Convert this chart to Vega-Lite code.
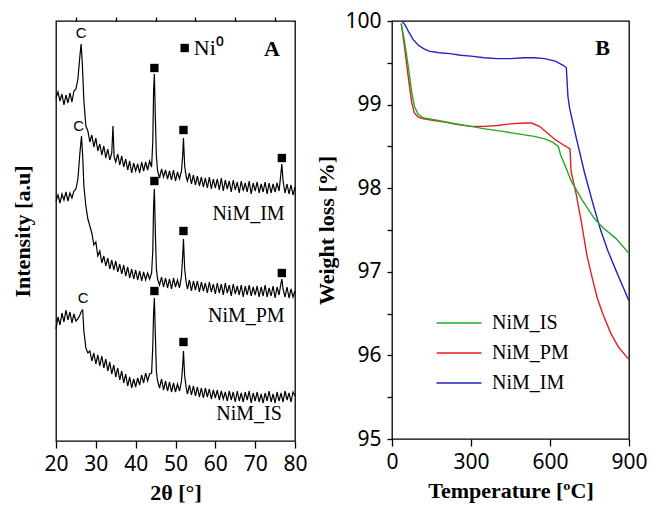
{
  "$schema": "https://vega.github.io/schema/vega-lite/v6.json",
  "background": "white",
  "padding": {"left": 10, "top": 9, "right": 4, "bottom": 0},
  "spacing": 7,
  "config": {
    "view": {"stroke": "black", "strokeWidth": 1.3},
    "axis": {
      "domain": false,
      "tickColor": "black",
      "tickWidth": 1.3,
      "labelFont": "Noto Sans",
      "labelFontSize": 21,
      "labelColor": "black",
      "labelOverlap": false,
      "titleFont": "Liberation Serif",
      "titleFontWeight": "bold",
      "titleFontSize": 22,
      "titleColor": "black",
      "grid": false
    }
  },
  "datasets": {
    "xrd": [
      {"s":"IM","t":20,"i":343},{"s":"IM","t":20.5,"i":349},{"s":"IM","t":21,"i":340},{"s":"IM","t":21.5,"i":347},{"s":"IM","t":22,"i":336},{"s":"IM","t":22.5,"i":346},{"s":"IM","t":23,"i":338},{"s":"IM","t":23.5,"i":348},{"s":"IM","t":24,"i":339},{"s":"IM","t":24.5,"i":350},{"s":"IM","t":25,"i":352},{"s":"IM","t":25.5,"i":362},{"s":"IM","t":26,"i":385},{"s":"IM","t":26.3,"i":397},{"s":"IM","t":26.6,"i":378},{"s":"IM","t":27,"i":340},{"s":"IM","t":27.5,"i":315},{"s":"IM","t":28,"i":310},{"s":"IM","t":28.5,"i":299},{"s":"IM","t":29,"i":306},{"s":"IM","t":29.5,"i":294},{"s":"IM","t":30,"i":303},{"s":"IM","t":30.5,"i":290},{"s":"IM","t":31,"i":297},{"s":"IM","t":31.5,"i":286},{"s":"IM","t":32,"i":295},{"s":"IM","t":32.5,"i":283},{"s":"IM","t":33,"i":292},{"s":"IM","t":33.5,"i":281},{"s":"IM","t":34,"i":288},{"s":"IM","t":34.3,"i":315},{"s":"IM","t":34.6,"i":284},{"s":"IM","t":35,"i":279},{"s":"IM","t":35.5,"i":287},{"s":"IM","t":36,"i":276},{"s":"IM","t":36.5,"i":285},{"s":"IM","t":37,"i":274},{"s":"IM","t":37.5,"i":282},{"s":"IM","t":38,"i":271},{"s":"IM","t":38.5,"i":280},{"s":"IM","t":39,"i":268},{"s":"IM","t":39.5,"i":278},{"s":"IM","t":40,"i":270},{"s":"IM","t":40.5,"i":277},{"s":"IM","t":41,"i":268},{"s":"IM","t":41.5,"i":279},{"s":"IM","t":42,"i":270},{"s":"IM","t":42.5,"i":279},{"s":"IM","t":43,"i":271},{"s":"IM","t":43.5,"i":280},{"s":"IM","t":44,"i":274},{"s":"IM","t":44.3,"i":300},{"s":"IM","t":44.5,"i":350},{"s":"IM","t":44.7,"i":367},{"s":"IM","t":44.9,"i":330},{"s":"IM","t":45.2,"i":285},{"s":"IM","t":45.5,"i":270},{"s":"IM","t":46,"i":263},{"s":"IM","t":46.5,"i":272},{"s":"IM","t":47,"i":264},{"s":"IM","t":47.5,"i":271},{"s":"IM","t":48,"i":262},{"s":"IM","t":48.5,"i":270},{"s":"IM","t":49,"i":261},{"s":"IM","t":49.5,"i":271},{"s":"IM","t":50,"i":260},{"s":"IM","t":50.5,"i":269},{"s":"IM","t":51,"i":262},{"s":"IM","t":51.5,"i":270},{"s":"IM","t":51.8,"i":285},{"s":"IM","t":52,"i":303},{"s":"IM","t":52.3,"i":275},{"s":"IM","t":52.7,"i":264},{"s":"IM","t":53,"i":260},{"s":"IM","t":53.5,"i":268},{"s":"IM","t":54,"i":257},{"s":"IM","t":54.5,"i":266},{"s":"IM","t":55,"i":256},{"s":"IM","t":55.5,"i":265},{"s":"IM","t":56,"i":255},{"s":"IM","t":56.5,"i":264},{"s":"IM","t":57,"i":254},{"s":"IM","t":57.5,"i":263},{"s":"IM","t":58,"i":253},{"s":"IM","t":58.5,"i":264},{"s":"IM","t":59,"i":252},{"s":"IM","t":59.5,"i":262},{"s":"IM","t":60,"i":253},{"s":"IM","t":60.5,"i":262},{"s":"IM","t":61,"i":251},{"s":"IM","t":61.5,"i":263},{"s":"IM","t":62,"i":250},{"s":"IM","t":62.5,"i":261},{"s":"IM","t":63,"i":252},{"s":"IM","t":63.5,"i":260},{"s":"IM","t":64,"i":249},{"s":"IM","t":64.5,"i":261},{"s":"IM","t":65,"i":251},{"s":"IM","t":65.5,"i":259},{"s":"IM","t":66,"i":248},{"s":"IM","t":66.5,"i":260},{"s":"IM","t":67,"i":250},{"s":"IM","t":67.5,"i":258},{"s":"IM","t":68,"i":249},{"s":"IM","t":68.5,"i":260},{"s":"IM","t":69,"i":247},{"s":"IM","t":69.5,"i":258},{"s":"IM","t":70,"i":250},{"s":"IM","t":70.5,"i":259},{"s":"IM","t":71,"i":248},{"s":"IM","t":71.5,"i":257},{"s":"IM","t":72,"i":249},{"s":"IM","t":72.5,"i":259},{"s":"IM","t":73,"i":247},{"s":"IM","t":73.5,"i":258},{"s":"IM","t":74,"i":248},{"s":"IM","t":74.5,"i":257},{"s":"IM","t":75,"i":249},{"s":"IM","t":75.5,"i":258},{"s":"IM","t":76,"i":250},{"s":"IM","t":76.4,"i":265},{"s":"IM","t":76.7,"i":277},{"s":"IM","t":77,"i":260},{"s":"IM","t":77.5,"i":248},{"s":"IM","t":78,"i":257},{"s":"IM","t":78.5,"i":247},{"s":"IM","t":79,"i":256},{"s":"IM","t":79.5,"i":246},{"s":"IM","t":80,"i":254},

      {"s":"PM","t":20,"i":240},{"s":"PM","t":20.5,"i":246},{"s":"PM","t":21,"i":238},{"s":"PM","t":21.5,"i":247},{"s":"PM","t":22,"i":241},{"s":"PM","t":22.5,"i":249},{"s":"PM","t":23,"i":240},{"s":"PM","t":23.5,"i":248},{"s":"PM","t":24,"i":243},{"s":"PM","t":24.5,"i":250},{"s":"PM","t":25,"i":252},{"s":"PM","t":25.5,"i":262},{"s":"PM","t":26,"i":288},{"s":"PM","t":26.4,"i":305},{"s":"PM","t":26.7,"i":285},{"s":"PM","t":27,"i":255},{"s":"PM","t":27.5,"i":235},{"s":"PM","t":28,"i":222},{"s":"PM","t":28.5,"i":215},{"s":"PM","t":29,"i":208},{"s":"PM","t":29.5,"i":196},{"s":"PM","t":30,"i":199},{"s":"PM","t":30.5,"i":185},{"s":"PM","t":31,"i":190},{"s":"PM","t":31.5,"i":178},{"s":"PM","t":32,"i":185},{"s":"PM","t":32.5,"i":175},{"s":"PM","t":33,"i":183},{"s":"PM","t":33.5,"i":172},{"s":"PM","t":34,"i":181},{"s":"PM","t":34.5,"i":171},{"s":"PM","t":35,"i":180},{"s":"PM","t":35.5,"i":169},{"s":"PM","t":36,"i":177},{"s":"PM","t":36.5,"i":167},{"s":"PM","t":37,"i":176},{"s":"PM","t":37.5,"i":165},{"s":"PM","t":38,"i":174},{"s":"PM","t":38.5,"i":163},{"s":"PM","t":39,"i":172},{"s":"PM","t":39.5,"i":162},{"s":"PM","t":40,"i":171},{"s":"PM","t":40.5,"i":161},{"s":"PM","t":41,"i":170},{"s":"PM","t":41.5,"i":160},{"s":"PM","t":42,"i":169},{"s":"PM","t":42.5,"i":161},{"s":"PM","t":43,"i":168},{"s":"PM","t":43.5,"i":162},{"s":"PM","t":44,"i":168},{"s":"PM","t":44.3,"i":190},{"s":"PM","t":44.5,"i":235},{"s":"PM","t":44.7,"i":252},{"s":"PM","t":44.9,"i":215},{"s":"PM","t":45.2,"i":172},{"s":"PM","t":45.5,"i":162},{"s":"PM","t":46,"i":156},{"s":"PM","t":46.5,"i":164},{"s":"PM","t":47,"i":154},{"s":"PM","t":47.5,"i":163},{"s":"PM","t":48,"i":153},{"s":"PM","t":48.5,"i":162},{"s":"PM","t":49,"i":152},{"s":"PM","t":49.5,"i":163},{"s":"PM","t":50,"i":154},{"s":"PM","t":50.5,"i":161},{"s":"PM","t":51,"i":153},{"s":"PM","t":51.5,"i":165},{"s":"PM","t":51.8,"i":185},{"s":"PM","t":52,"i":202},{"s":"PM","t":52.3,"i":172},{"s":"PM","t":52.7,"i":158},{"s":"PM","t":53,"i":152},{"s":"PM","t":53.5,"i":161},{"s":"PM","t":54,"i":150},{"s":"PM","t":54.5,"i":160},{"s":"PM","t":55,"i":151},{"s":"PM","t":55.5,"i":160},{"s":"PM","t":56,"i":149},{"s":"PM","t":56.5,"i":159},{"s":"PM","t":57,"i":150},{"s":"PM","t":57.5,"i":158},{"s":"PM","t":58,"i":148},{"s":"PM","t":58.5,"i":159},{"s":"PM","t":59,"i":149},{"s":"PM","t":59.5,"i":157},{"s":"PM","t":60,"i":147},{"s":"PM","t":60.5,"i":158},{"s":"PM","t":61,"i":148},{"s":"PM","t":61.5,"i":157},{"s":"PM","t":62,"i":146},{"s":"PM","t":62.5,"i":158},{"s":"PM","t":63,"i":148},{"s":"PM","t":63.5,"i":156},{"s":"PM","t":64,"i":145},{"s":"PM","t":64.5,"i":157},{"s":"PM","t":65,"i":147},{"s":"PM","t":65.5,"i":155},{"s":"PM","t":66,"i":146},{"s":"PM","t":66.5,"i":156},{"s":"PM","t":67,"i":144},{"s":"PM","t":67.5,"i":155},{"s":"PM","t":68,"i":146},{"s":"PM","t":68.5,"i":156},{"s":"PM","t":69,"i":145},{"s":"PM","t":69.5,"i":154},{"s":"PM","t":70,"i":146},{"s":"PM","t":70.5,"i":155},{"s":"PM","t":71,"i":144},{"s":"PM","t":71.5,"i":154},{"s":"PM","t":72,"i":145},{"s":"PM","t":72.5,"i":156},{"s":"PM","t":73,"i":144},{"s":"PM","t":73.5,"i":153},{"s":"PM","t":74,"i":145},{"s":"PM","t":74.5,"i":155},{"s":"PM","t":75,"i":143},{"s":"PM","t":75.5,"i":154},{"s":"PM","t":76,"i":146},{"s":"PM","t":76.4,"i":156},{"s":"PM","t":76.7,"i":162},{"s":"PM","t":77,"i":152},{"s":"PM","t":77.5,"i":144},{"s":"PM","t":78,"i":154},{"s":"PM","t":78.5,"i":143},{"s":"PM","t":79,"i":152},{"s":"PM","t":79.5,"i":144},{"s":"PM","t":80,"i":150},

      {"s":"IS","t":20,"i":112},{"s":"IS","t":20.5,"i":124},{"s":"IS","t":21,"i":116},{"s":"IS","t":21.5,"i":128},{"s":"IS","t":22,"i":119},{"s":"IS","t":22.5,"i":131},{"s":"IS","t":23,"i":121},{"s":"IS","t":23.5,"i":129},{"s":"IS","t":24,"i":118},{"s":"IS","t":24.5,"i":127},{"s":"IS","t":25,"i":120},{"s":"IS","t":25.5,"i":122},{"s":"IS","t":26,"i":126},{"s":"IS","t":26.4,"i":130},{"s":"IS","t":26.7,"i":131},{"s":"IS","t":27,"i":110},{"s":"IS","t":27.5,"i":93},{"s":"IS","t":28,"i":88},{"s":"IS","t":28.5,"i":90},{"s":"IS","t":29,"i":80},{"s":"IS","t":29.5,"i":88},{"s":"IS","t":30,"i":77},{"s":"IS","t":30.5,"i":86},{"s":"IS","t":31,"i":75},{"s":"IS","t":31.5,"i":85},{"s":"IS","t":32,"i":73},{"s":"IS","t":32.5,"i":82},{"s":"IS","t":33,"i":70},{"s":"IS","t":33.5,"i":79},{"s":"IS","t":34,"i":67},{"s":"IS","t":34.5,"i":76},{"s":"IS","t":35,"i":64},{"s":"IS","t":35.5,"i":73},{"s":"IS","t":36,"i":61},{"s":"IS","t":36.5,"i":70},{"s":"IS","t":37,"i":58},{"s":"IS","t":37.5,"i":67},{"s":"IS","t":38,"i":55},{"s":"IS","t":38.5,"i":64},{"s":"IS","t":39,"i":53},{"s":"IS","t":39.5,"i":62},{"s":"IS","t":40,"i":54},{"s":"IS","t":40.5,"i":63},{"s":"IS","t":41,"i":56},{"s":"IS","t":41.5,"i":66},{"s":"IS","t":42,"i":58},{"s":"IS","t":42.5,"i":68},{"s":"IS","t":43,"i":60},{"s":"IS","t":43.5,"i":67},{"s":"IS","t":44,"i":68},{"s":"IS","t":44.3,"i":95},{"s":"IS","t":44.5,"i":128},{"s":"IS","t":44.7,"i":143},{"s":"IS","t":44.9,"i":112},{"s":"IS","t":45.2,"i":70},{"s":"IS","t":45.5,"i":60},{"s":"IS","t":46,"i":53},{"s":"IS","t":46.5,"i":62},{"s":"IS","t":47,"i":51},{"s":"IS","t":47.5,"i":60},{"s":"IS","t":48,"i":50},{"s":"IS","t":48.5,"i":59},{"s":"IS","t":49,"i":49},{"s":"IS","t":49.5,"i":58},{"s":"IS","t":50,"i":49},{"s":"IS","t":50.5,"i":57},{"s":"IS","t":51,"i":50},{"s":"IS","t":51.5,"i":60},{"s":"IS","t":51.8,"i":75},{"s":"IS","t":52,"i":90},{"s":"IS","t":52.3,"i":65},{"s":"IS","t":52.7,"i":53},{"s":"IS","t":53,"i":47},{"s":"IS","t":53.5,"i":56},{"s":"IS","t":54,"i":46},{"s":"IS","t":54.5,"i":55},{"s":"IS","t":55,"i":45},{"s":"IS","t":55.5,"i":54},{"s":"IS","t":56,"i":44},{"s":"IS","t":56.5,"i":53},{"s":"IS","t":57,"i":43},{"s":"IS","t":57.5,"i":53},{"s":"IS","t":58,"i":44},{"s":"IS","t":58.5,"i":52},{"s":"IS","t":59,"i":42},{"s":"IS","t":59.5,"i":51},{"s":"IS","t":60,"i":43},{"s":"IS","t":60.5,"i":51},{"s":"IS","t":61,"i":41},{"s":"IS","t":61.5,"i":50},{"s":"IS","t":62,"i":42},{"s":"IS","t":62.5,"i":49},{"s":"IS","t":63,"i":40},{"s":"IS","t":63.5,"i":50},{"s":"IS","t":64,"i":41},{"s":"IS","t":64.5,"i":49},{"s":"IS","t":65,"i":39},{"s":"IS","t":65.5,"i":50},{"s":"IS","t":66,"i":40},{"s":"IS","t":66.5,"i":48},{"s":"IS","t":67,"i":39},{"s":"IS","t":67.5,"i":49},{"s":"IS","t":68,"i":41},{"s":"IS","t":68.5,"i":50},{"s":"IS","t":69,"i":38},{"s":"IS","t":69.5,"i":48},{"s":"IS","t":70,"i":40},{"s":"IS","t":70.5,"i":49},{"s":"IS","t":71,"i":39},{"s":"IS","t":71.5,"i":47},{"s":"IS","t":72,"i":38},{"s":"IS","t":72.5,"i":48},{"s":"IS","t":73,"i":40},{"s":"IS","t":73.5,"i":50},{"s":"IS","t":74,"i":39},{"s":"IS","t":74.5,"i":47},{"s":"IS","t":75,"i":38},{"s":"IS","t":75.5,"i":49},{"s":"IS","t":76,"i":40},{"s":"IS","t":76.5,"i":48},{"s":"IS","t":77,"i":39},{"s":"IS","t":77.5,"i":50},{"s":"IS","t":78,"i":41},{"s":"IS","t":78.5,"i":48},{"s":"IS","t":79,"i":39},{"s":"IS","t":79.5,"i":49},{"s":"IS","t":80,"i":45}
    ],
    "markers": [
      {"t":44.7,"i":373},{"t":52,"i":311},{"t":76.7,"i":283},
      {"t":44.7,"i":260},{"t":52,"i":210},{"t":76.7,"i":168},
      {"t":44.7,"i":150},{"t":52,"i":99},
      {"t":52.3,"i":393}
    ],
    "clabels": [
      {"t":26.3,"i":408,"text":"C"},
      {"t":25.7,"i":315,"text":"C"},
      {"t":26.8,"i":143,"text":"C"}
    ],
    "samplelabels": [
      {"t":77.4,"i":227,"text":"NiM_IM"},
      {"t":77.4,"i":125,"text":"NiM_PM"},
      {"t":76.7,"i":27,"text":"NiM_IS"}
    ],
    "tga": [
      {"s":"NiM_IM","T":38,"w":100.0},{"s":"NiM_IM","T":50,"w":99.95},{"s":"NiM_IM","T":65,"w":99.86},{"s":"NiM_IM","T":80,"w":99.78},{"s":"NiM_IM","T":100,"w":99.71},{"s":"NiM_IM","T":120,"w":99.67},{"s":"NiM_IM","T":140,"w":99.64},{"s":"NiM_IM","T":180,"w":99.62},{"s":"NiM_IM","T":220,"w":99.61},{"s":"NiM_IM","T":260,"w":99.59},{"s":"NiM_IM","T":300,"w":99.58},{"s":"NiM_IM","T":350,"w":99.56},{"s":"NiM_IM","T":400,"w":99.55},{"s":"NiM_IM","T":450,"w":99.55},{"s":"NiM_IM","T":500,"w":99.56},{"s":"NiM_IM","T":540,"w":99.56},{"s":"NiM_IM","T":580,"w":99.55},{"s":"NiM_IM","T":620,"w":99.52},{"s":"NiM_IM","T":650,"w":99.47},{"s":"NiM_IM","T":662,"w":99.44},{"s":"NiM_IM","T":668,"w":99.1},{"s":"NiM_IM","T":675,"w":98.95},{"s":"NiM_IM","T":700,"w":98.6},{"s":"NiM_IM","T":730,"w":98.2},{"s":"NiM_IM","T":760,"w":97.85},{"s":"NiM_IM","T":790,"w":97.52},{"s":"NiM_IM","T":820,"w":97.25},{"s":"NiM_IM","T":850,"w":97.02},{"s":"NiM_IM","T":880,"w":96.8},{"s":"NiM_IM","T":900,"w":96.65},

      {"s":"NiM_PM","T":35,"w":99.97},{"s":"NiM_PM","T":45,"w":99.75},{"s":"NiM_PM","T":55,"w":99.5},{"s":"NiM_PM","T":65,"w":99.25},{"s":"NiM_PM","T":75,"w":99.02},{"s":"NiM_PM","T":85,"w":98.9},{"s":"NiM_PM","T":100,"w":98.85},{"s":"NiM_PM","T":120,"w":98.83},{"s":"NiM_PM","T":160,"w":98.81},{"s":"NiM_PM","T":200,"w":98.79},{"s":"NiM_PM","T":250,"w":98.76},{"s":"NiM_PM","T":300,"w":98.74},{"s":"NiM_PM","T":350,"w":98.74},{"s":"NiM_PM","T":400,"w":98.75},{"s":"NiM_PM","T":450,"w":98.77},{"s":"NiM_PM","T":500,"w":98.78},{"s":"NiM_PM","T":530,"w":98.78},{"s":"NiM_PM","T":560,"w":98.74},{"s":"NiM_PM","T":590,"w":98.66},{"s":"NiM_PM","T":620,"w":98.58},{"s":"NiM_PM","T":650,"w":98.52},{"s":"NiM_PM","T":676,"w":98.47},{"s":"NiM_PM","T":680,"w":98.2},{"s":"NiM_PM","T":700,"w":97.92},{"s":"NiM_PM","T":720,"w":97.58},{"s":"NiM_PM","T":740,"w":97.2},{"s":"NiM_PM","T":760,"w":96.93},{"s":"NiM_PM","T":780,"w":96.68},{"s":"NiM_PM","T":800,"w":96.5},{"s":"NiM_PM","T":830,"w":96.27},{"s":"NiM_PM","T":860,"w":96.1},{"s":"NiM_PM","T":900,"w":95.95},

      {"s":"NiM_IS","T":35,"w":99.97},{"s":"NiM_IS","T":45,"w":99.8},{"s":"NiM_IS","T":55,"w":99.6},{"s":"NiM_IS","T":65,"w":99.38},{"s":"NiM_IS","T":75,"w":99.15},{"s":"NiM_IS","T":85,"w":98.98},{"s":"NiM_IS","T":100,"w":98.88},{"s":"NiM_IS","T":120,"w":98.84},{"s":"NiM_IS","T":160,"w":98.82},{"s":"NiM_IS","T":225,"w":98.78},{"s":"NiM_IS","T":300,"w":98.74},{"s":"NiM_IS","T":353,"w":98.71},{"s":"NiM_IS","T":420,"w":98.68},{"s":"NiM_IS","T":478,"w":98.65},{"s":"NiM_IS","T":540,"w":98.62},{"s":"NiM_IS","T":580,"w":98.59},{"s":"NiM_IS","T":610,"w":98.55},{"s":"NiM_IS","T":632,"w":98.5},{"s":"NiM_IS","T":640,"w":98.4},{"s":"NiM_IS","T":660,"w":98.25},{"s":"NiM_IS","T":680,"w":98.09},{"s":"NiM_IS","T":720,"w":97.87},{"s":"NiM_IS","T":770,"w":97.63},{"s":"NiM_IS","T":800,"w":97.53},{"s":"NiM_IS","T":850,"w":97.4},{"s":"NiM_IS","T":900,"w":97.22}
    ],
    "btext": [{"T":800,"w":99.68,"text":"B"}]
  },
  "hconcat": [
    {
      "width": 239,
      "height": 420,
      "resolve": {"axis": {"x": "independent"}},
      "layer": [
        {
          "data": {"name": "xrd"},
          "mark": {"type": "line", "color": "black", "strokeWidth": 1.2},
          "encoding": {
            "x": {"field": "t", "type": "quantitative", "scale": {"domain": [20, 80], "nice": false},
              "axis": {"title": "2θ [°]", "values": [20,30,40,50,60,70,80],
                "labelOverlap": false, "tickSize": 7,
                "labelPadding": 5, "titlePadding": 8, "labelFlush": false}},
            "y": {"field": "i", "type": "quantitative", "scale": {"domain": [0, 420], "nice": false},
              "axis": {"title": "Intensity [a.u]", "labels": false, "ticks": false, "titlePadding": 22}},
            "detail": {"field": "s"}
          }
        },
        {
          "data": {"name": "markers"},
          "mark": {"type": "square", "color": "black", "filled": true, "size": 70, "opacity": 1},
          "encoding": {
            "x": {"field": "t", "type": "quantitative",
              "axis": {"title": null, "values": [25,35,45,55,65,75], "labels": false, "tickSize": 4}},
            "y": {"field": "i", "type": "quantitative"}
          }
        },
        {
          "data": {"name": "clabels"},
          "mark": {"type": "text", "font": "Liberation Sans", "fontSize": 15, "color": "black", "align": "center", "baseline": "middle"},
          "encoding": {
            "x": {"field": "t", "type": "quantitative", "axis": null},
            "y": {"field": "i", "type": "quantitative"},
            "text": {"field": "text"}
          }
        },
        {
          "data": {"name": "samplelabels"},
          "mark": {"type": "text", "font": "Liberation Serif", "fontSize": 20, "color": "black", "align": "right", "baseline": "middle"},
          "encoding": {
            "x": {"field": "t", "type": "quantitative", "axis": null},
            "y": {"field": "i", "type": "quantitative"},
            "text": {"field": "text"}
          }
        },
        {
          "data": {"values": [{"t": 54.6, "i": 393, "text": "Ni⁰"}]},
          "mark": {"type": "text", "font": "Liberation Serif", "fontSize": 22, "color": "black", "align": "left", "baseline": "middle"},
          "encoding": {
            "x": {"field": "t", "type": "quantitative", "axis": null},
            "y": {"field": "i", "type": "quantitative"},
            "text": {"field": "text"}
          }
        },
        {
          "data": {"values": [{"t": 74.2, "i": 392, "text": "A"}]},
          "mark": {"type": "text", "font": "Liberation Serif", "fontWeight": "bold", "fontSize": 22, "color": "black", "align": "center", "baseline": "middle"},
          "encoding": {
            "x": {"field": "t", "type": "quantitative", "axis": null},
            "y": {"field": "i", "type": "quantitative"},
            "text": {"field": "text"}
          }
        }
      ]
    },
    {
      "width": 237,
      "height": 418,
      "layer": [
        {
          "data": {"name": "tga"},
          "mark": {"type": "line", "strokeWidth": 1.4},
          "encoding": {
            "x": {"field": "T", "type": "quantitative", "scale": {"domain": [0, 900], "nice": false},
              "axis": {"title": "Temperature  [ºC]", "values": [0,150,300,450,600,750,900],
                "labelExpr": "datum.value % 300 === 0 ? format(datum.value, 'd') : ''",
                "labelOverlap": false,
                "tickSize": {"condition": {"test": "datum.value % 300 === 0", "value": 7}, "value": 4},
                "labelPadding": 5, "titlePadding": 8, "labelFlush": false}},
            "y": {"field": "w", "type": "quantitative", "scale": {"domain": [95, 100], "nice": false},
              "axis": {"title": "Weight loss [%]", "values": [95,95.5,96,96.5,97,97.5,98,98.5,99,99.5,100],
                "labelExpr": "datum.value % 1 === 0 ? format(datum.value, 'd') : ''",
                "labelOverlap": false,
                "tickSize": 5, "labelPadding": 6, "titlePadding": 6, "labelFlush": false}},
            "color": {"field": "s", "type": "nominal",
              "scale": {"domain": ["NiM_IS", "NiM_PM", "NiM_IM"], "range": ["#22aa22", "#e02020", "#2222c8"]},
              "legend": {"title": null, "orient": "none", "legendX": 387, "legendY": 286,
                "symbolType": "M-1.5,0L1.5,0", "symbolSize": 900, "symbolStrokeWidth": 1.4,
                "labelFont": "Liberation Serif", "labelFontSize": 20, "labelColor": "black",
                "labelOffset": 17, "rowPadding": 4}}
          }
        },
        {
          "data": {"name": "btext"},
          "mark": {"type": "text", "font": "Liberation Serif", "fontWeight": "bold", "fontSize": 22, "color": "black", "align": "center", "baseline": "middle"},
          "encoding": {
            "x": {"field": "T", "type": "quantitative"},
            "y": {"field": "w", "type": "quantitative"},
            "text": {"field": "text"}
          }
        }
      ]
    }
  ]
}
